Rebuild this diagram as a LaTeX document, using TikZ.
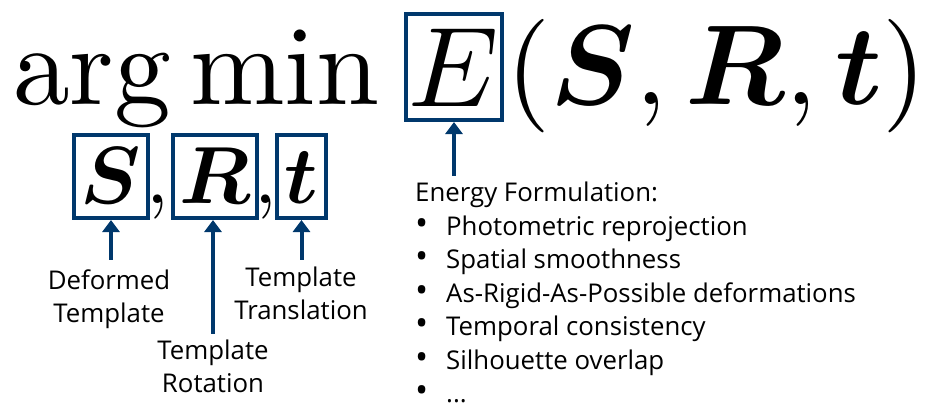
\documentclass[tikz,border=0pt]{standalone}
\usepackage{amsmath}
\usepackage{fontspec}
\usetikzlibrary{arrows.meta,positioning}
\newfontfamily\lblfont{Open Sans}
\definecolor{navy}{RGB}{0,56,108}
\newcommand{\bigmath}[1]{\scalebox{11.35}{$#1$}}
\newcommand{\midmath}[1]{\scalebox{8.1}{$#1$}}
\newcommand{\itm}{\makebox[31pt][l]{\scalebox{1.35}{\textbullet}}}
\tikzset{
  formula/.style={inner sep=0pt},
  varbox/.style={draw=navy,line width=4pt,inner sep=0pt},
  lbl/.style={inner sep=0pt,align=center,font=\lblfont\fontsize{25.8}{33.5}\selectfont},
  arr/.style={navy,line width=4pt,-{Triangle[length=12pt,width=17pt]}},
}

\begin{document}
\begin{tikzpicture}[x=1pt,y=-1pt]
  \useasboundingbox (0,0) rectangle (928,405);
  % objective
  \node[formula,anchor=base west] (argmin) at (13,104) {\bigmath{\arg\min}};
  \node[varbox,minimum width=96pt,minimum height=106pt,
    text height=82pt,text depth=4pt] (E) at (454,67) {\bigmath{E}};
  \node[formula,anchor=base west] (args) at (506,104)
    {\bigmath{(\boldsymbol{S},\boldsymbol{R},\boldsymbol{t})}};
  % variables
  \node[varbox,minimum width=74pt,minimum height=83pt,
    text height=60pt,text depth=7pt] (S) at (111,176.5) {\midmath{\boldsymbol{S}}};
  \node[formula,anchor=base] (c1) at (158,203) {\midmath{,}};
  \node[varbox,minimum width=84pt,minimum height=83pt,
    text height=60pt,text depth=7pt] (R) at (215,176.5) {\midmath{\boldsymbol{R}}};
  \node[formula,anchor=base] (c2) at (266,203) {\midmath{,}};
  \node[varbox,minimum width=49pt,minimum height=83pt,
    text height=60pt,text depth=7pt] (t) at (301.5,176.5) {\midmath{\boldsymbol{t}}};
  % labels
  \node[lbl,anchor=north] (defl) at (109,269.5) {Deformed\\Template};
  \node[lbl,anchor=north] (rotl) at (213,339.5) {Template\\Rotation};
  \node[lbl,anchor=north] (trl) at (301,266.5) {Template\\Translation};
  \node[lbl,align=left,anchor=north west] (energy) at (415,182)
    {Energy Formulation:\\
     \itm Photometric reprojection\\
     \itm Spatial smoothness\\
     \itm As-Rigid-As-Possible deformations\\
     \itm Temporal consistency\\
     \itm Silhouette overlap\\
     \itm ...};
  % arrows
  \coordinate (sfoot) at ([yshift=10pt]defl.north);
  \coordinate (rfoot) at ([yshift=6pt]rotl.north);
  \coordinate (tfoot) at ([yshift=7pt]trl.north);
  \coordinate (efoot) at ([yshift=6.5pt]energy.north);
  \draw[arr] (sfoot -| S.south) -- (S.south);
  \draw[arr] (rfoot) -- (rfoot |- R.south);
  \draw[arr] (tfoot -| t.south) -- (t.south);
  \draw[arr] (efoot -| E.south) -- (E.south);
\end{tikzpicture}
\end{document}
